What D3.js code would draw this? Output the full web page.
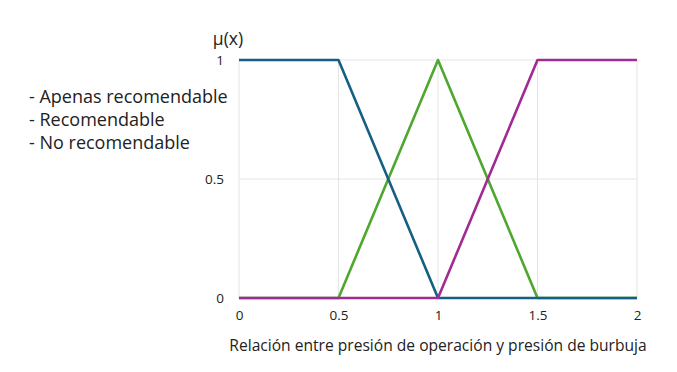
<!DOCTYPE html>
<html><head><meta charset="utf-8">
<script src="https://cdn.jsdelivr.net/npm/d3@7"></script>
<style>body{margin:0;background:#fff;} text{font-family:"Open Sans","Noto Sans",sans-serif;}</style>
</head><body>
<svg id="c" width="677" height="372"></svg>
<script>
const xValues = [0, 0.5, 1, 1.5, 2];
const apenasRecomendable = [1, 1, 0, 0, 0];
const recomendable = [0, 0, 1, 0, 0];
const noRecomendable = [0, 0, 0, 1, 1];
const xTicks = [0, 0.5, 1, 1.5, 2];
const yTicks = [0, 0.5, 1];
const legendLabels = ["- Apenas recomendable", "- Recomendable", "- No recomendable"];
const xTitle = "Relación entre presión de operación y presión de burbuja";
const yTitle = "μ(x)";

const svg = d3.select("#c");
const x = d3.scaleLinear().domain([0, 2]).range([239, 637]);
const y = d3.scaleLinear().domain([0, 1]).range([298, 60]);

// gridlines
svg.append("g").selectAll("line").data(xTicks).join("line")
  .attr("x1", d => x(d)).attr("x2", d => x(d)).attr("y1", y(0)).attr("y2", y(1))
  .attr("stroke", "#e4e4e4").attr("stroke-width", 1);
svg.append("g").selectAll("line").data(yTicks).join("line")
  .attr("x1", x(0)).attr("x2", x(2)).attr("y1", d => y(d)).attr("y2", d => y(d))
  .attr("stroke", "#e4e4e4").attr("stroke-width", 1);

// axes labels
const xAxis = d3.axisBottom(x).tickValues(xTicks).tickFormat(d3.format("")).tickSize(0).tickPadding(12);
const gx = svg.append("g").attr("transform", `translate(0,${y(0)})`).call(xAxis);
gx.select(".domain").remove();
gx.selectAll("text").attr("font-size", 13.5).attr("fill", "#222").attr("font-family", "Open Sans");

const yAxis = d3.axisLeft(y).tickValues(yTicks).tickFormat(d3.format("")).tickSize(0).tickPadding(15);
const gy = svg.append("g").attr("transform", `translate(${x(0)},0)`).call(yAxis);
gy.select(".domain").remove();
gy.selectAll("text").attr("font-size", 13.5).attr("fill", "#222").attr("font-family", "Open Sans");

const line = d3.line().x(d => x(d[0])).y(d => y(d[1]));
const series = [
  {vals: recomendable, color: "#4ea72e"},
  {vals: apenasRecomendable, color: "#156082"},
  {vals: noRecomendable, color: "#a02b93"}
];
svg.append("g").selectAll("path").data(series).join("path")
  .attr("d", s => line(xValues.map((v, i) => [v, s.vals[i]])))
  .attr("fill", "none").attr("stroke", s => s.color).attr("stroke-width", 2.6)
  .attr("stroke-linejoin", "round");

svg.append("text").attr("x", 228).attr("y", 45).attr("text-anchor", "middle")
  .attr("font-size", 17.5).attr("fill", "#222").text(yTitle);

svg.append("text").attr("x", 438).attr("y", 351).attr("text-anchor", "middle")
  .attr("font-size", 15.6).attr("fill", "#222").text(xTitle);

svg.append("g").selectAll("text").data(legendLabels).join("text")
  .attr("x", 29).attr("y", (d, i) => 103 + i * 23)
  .attr("font-size", 18).attr("fill", "#222").text(d => d);
</script>
</body></html>
